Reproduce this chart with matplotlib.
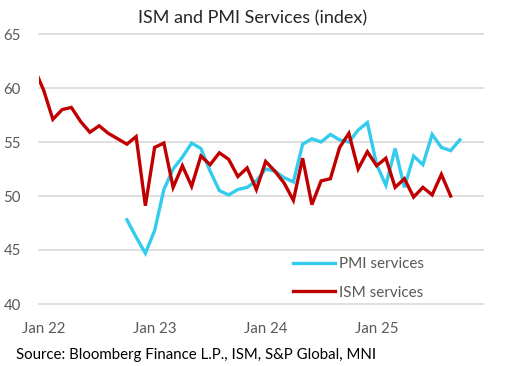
import pandas as pd
import matplotlib.pyplot as plt

plt.rcParams['font.family'] = ['Lato', 'DejaVu Sans']

# monthly readings, Dec 21 .. Sep 25 for ISM, Oct 22 .. Oct 25 for PMI
ism_start = "2021-12"
ism = [61.8,
       59.8, 57.1, 58.0, 58.2, 56.9, 55.9, 56.5, 55.8, 55.3, 54.8, 55.5, 49.1,
       54.5, 54.9, 50.8, 52.8, 50.9, 53.7, 52.9, 54.0, 53.4, 51.8, 52.6, 50.6,
       53.2, 52.3, 51.2, 49.6, 53.5, 49.2, 51.4, 51.6, 54.5, 55.8, 52.5, 54.1,
       52.8, 53.5, 50.8, 51.6, 49.9, 50.8, 50.1, 52.0, 50.0]

pmi_start = "2022-10"
pmi = [47.8, 46.2, 44.7,
       46.8, 50.6, 52.5, 53.6, 54.9, 54.4, 52.3, 50.5, 50.1, 50.6, 50.8, 51.4,
       52.5, 52.3, 51.7, 51.3, 54.8, 55.3, 55.0, 55.7, 55.2, 55.0, 56.1, 56.8,
       52.9, 51.0, 54.4, 50.8, 53.7, 52.9, 55.7, 54.5, 54.2, 55.2]

tick_labels = ["Jan 22", "Jan 23", "Jan 24", "Jan 25"]
y_ticks = [40, 45, 50, 55, 60, 65]

base = pd.Period("2022-01", freq="M")
def month_pos(start, n):
    p0 = pd.Period(start, freq="M")
    return [(p0 + i - base).n for i in range(n)]

ism_x = month_pos(ism_start, len(ism))
pmi_x = month_pos(pmi_start, len(pmi))

fig = plt.figure(figsize=(5.07, 3.66), dpi=100)
ax = fig.add_axes([39/507, 1-304/366, 444/507, 270/366])

ax.plot(pmi_x, pmi, color="#33CCEE", lw=2.4, label="PMI services", solid_joinstyle="miter")
ax.plot(ism_x, ism, color="#C00000", lw=2.4, label="ISM services", solid_joinstyle="miter")

ax.set_xlim(-0.5, 47.5)
ax.set_ylim(40, 65)
ax.set_yticks(y_ticks)
ax.set_xticks([0, 12, 24, 36])
ax.set_xticklabels(tick_labels)
ax.yaxis.grid(True, color="#d9d9d9", lw=1.2, clip_on=False)
ax.set_axisbelow(True)
for s in ax.spines.values():
    s.set_visible(False)
ax.tick_params(length=0, labelsize=10.8, labelcolor="#595959")
ax.tick_params(axis="x", pad=13)
ax.tick_params(axis="y", pad=13)

ax.legend(loc="center left", bbox_to_anchor=(0.54, 0.095), frameon=False,
          fontsize=11, labelcolor="#595959", handlelength=2.8,
          handletextpad=0.25, labelspacing=0.95)

fig.text(253/507, 1-18/366, "ISM and PMI Services (index)", ha="center", va="center",
         fontsize=13, color="#262626")
fig.text(16/507, 1-355/366, "Source: Bloomberg Finance L.P., ISM, S&P Global, MNI",
         ha="left", va="center", fontsize=10.8, color="black")

fig.savefig("out.png", dpi=100)
